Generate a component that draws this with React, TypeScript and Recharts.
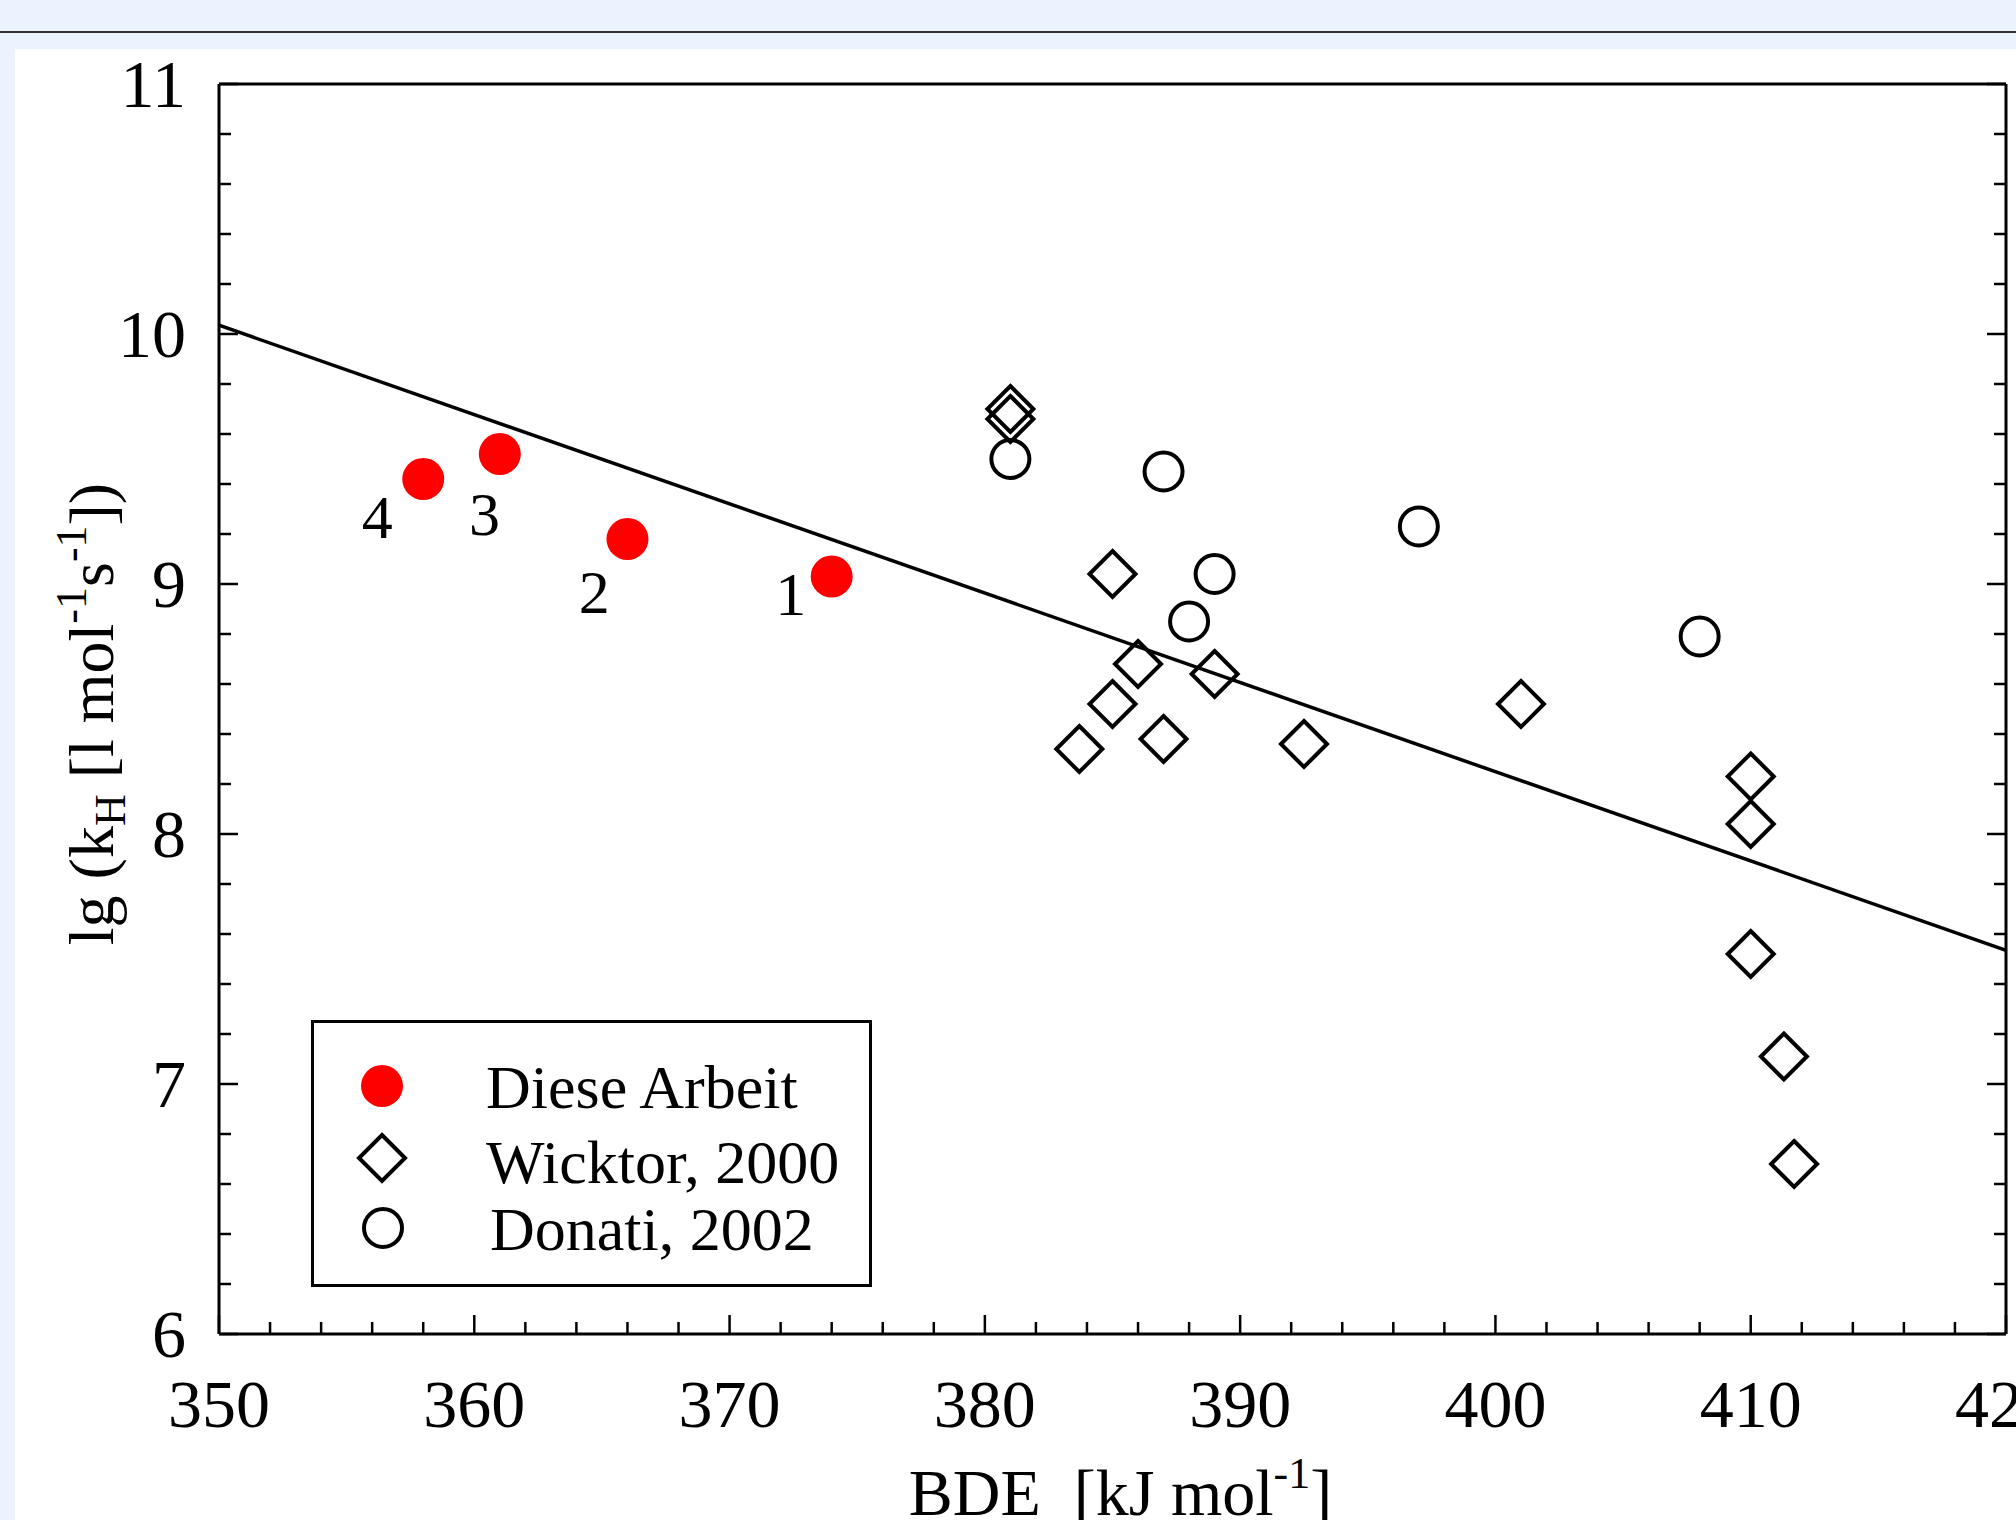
import React from "react";
import { ComposedChart, Scatter, Line, XAxis, YAxis, Legend } from "recharts";

const FONT = '"Liberation Serif", "Times New Roman", Times, serif';

// this work (red dots, numbered)
const dieseArbeit = [
  { x: 374.0, y: 9.03 },
  { x: 366.0, y: 9.18 },
  { x: 361.0, y: 9.52 },
  { x: 358.0, y: 9.42 },
];

// number labels next to the red dots
const dieseLabels = [
  { x: 372.4, y: 8.96, text: "1" },
  { x: 364.7, y: 8.97, text: "2" },
  { x: 360.4, y: 9.28, text: "3" },
  { x: 356.2, y: 9.27, text: "4" },
];

const wicktor = [
  { x: 381.0, y: 9.7 },
  { x: 381.0, y: 9.66 },
  { x: 385.0, y: 9.04 },
  { x: 386.0, y: 8.68 },
  { x: 389.0, y: 8.64 },
  { x: 385.0, y: 8.52 },
  { x: 387.0, y: 8.38 },
  { x: 383.7, y: 8.34 },
  { x: 392.5, y: 8.36 },
  { x: 401.0, y: 8.52 },
  { x: 410.0, y: 8.23 },
  { x: 410.0, y: 8.04 },
  { x: 410.0, y: 7.52 },
  { x: 411.3, y: 7.11 },
  { x: 411.7, y: 6.68 },
];

const donati = [
  { x: 381.0, y: 9.5 },
  { x: 387.0, y: 9.45 },
  { x: 389.0, y: 9.04 },
  { x: 388.0, y: 8.85 },
  { x: 397.0, y: 9.23 },
  { x: 408.0, y: 8.79 },
];

// linear fit
const fitLine = [
  { x: 350, y: 10.035 },
  { x: 420, y: 7.535 },
];

const xMajorTicks = [350, 360, 370, 380, 390, 400, 410, 420];
const yMajorTicks = [6, 7, 8, 9, 10, 11];
const xTicks = Array.from({ length: 36 }, (_, i) => 350 + i * 2);
const yTicks = Array.from({ length: 26 }, (_, i) => (60 + i * 2) / 10);

const isMajorX = (v: number) => xMajorTicks.includes(v);
const isMajorY = (v: number) => yMajorTicks.some((t) => Math.abs(t - v) < 1e-6);

const MAJOR = 19;
const MINOR = 12;
const TICK_W = 2.5;

const BottomTick = (props: any) => {
  const { x, y, payload } = props;
  const major = isMajorX(payload.value);
  return (
    <g>
      <line x1={x} x2={x} y1={y} y2={y - (major ? MAJOR : MINOR)} stroke="#000" strokeWidth={TICK_W} />
      {major && (
        <text x={x} y={y + 93} textAnchor="middle" fontFamily={FONT} fontSize={68} fill="#000">
          {payload.value}
        </text>
      )}
    </g>
  );
};

const TopTick = (props: any) => {
  const { x, y, payload } = props;
  const major = isMajorX(payload.value);
  return <line x1={x} x2={x} y1={y} y2={y + (major ? MAJOR : MINOR)} stroke="#000" strokeWidth={TICK_W} />;
};

const LeftTick = (props: any) => {
  const { x, y, payload } = props;
  const major = isMajorY(payload.value);
  return (
    <g>
      <line x1={x} x2={x + (major ? MAJOR : MINOR)} y1={y} y2={y} stroke="#000" strokeWidth={TICK_W} />
      {major && (
        <text x={x - 33} y={y} dy="0.34em" textAnchor="end" fontFamily={FONT} fontSize={68} fill="#000">
          {Math.round(payload.value)}
        </text>
      )}
    </g>
  );
};

const RightTick = (props: any) => {
  const { x, y, payload } = props;
  const major = isMajorY(payload.value);
  return <line x1={x} x2={x - (major ? MAJOR : MINOR)} y1={y} y2={y} stroke="#000" strokeWidth={TICK_W} />;
};

const RedDot = (props: any) => <circle cx={props.cx} cy={props.cy} r={21} fill="#ff0000" />;

const Diamond = (props: any) => {
  const { cx, cy } = props;
  const d = 23;
  return (
    <polygon
      points={`${cx},${cy - d} ${cx + d},${cy} ${cx},${cy + d} ${cx - d},${cy}`}
      fill="none"
      stroke="#000"
      strokeWidth={4}
    />
  );
};

const Ring = (props: any) => (
  <circle cx={props.cx} cy={props.cy} r={19} fill="none" stroke="#000" strokeWidth={4} />
);

const NumberLabel = (props: any) => (
  <text
    x={props.cx}
    y={props.cy}
    dy="0.34em"
    textAnchor="middle"
    fontFamily={FONT}
    fontSize={62}
    fill="#000"
  >
    {props.payload?.text}
  </text>
);

const XTitle = (props: any) => {
  const vb = props.viewBox || { x: 219, y: 1334, width: 1787 };
  const cx = vb.x + vb.width / 2 + 8;
  return (
    <text x={cx} y={1515} textAnchor="middle" fontFamily={FONT} fontSize={66} fill="#000">
      BDE{"\u00A0\u00A0"}[kJ mol
      <tspan dy={-27} fontSize={44}>-1</tspan>
      <tspan dy={27}>]</tspan>
    </text>
  );
};

const YTitle = () => {
  const x = 113;
  const y = 714;
  return (
    <text
      x={x}
      y={y}
      transform={`rotate(-90 ${x} ${y})`}
      textAnchor="middle"
      fontFamily={FONT}
      fontSize={64}
      fill="#000"
    >
      lg (k
      <tspan dy={12} fontSize={44}>H</tspan>
      <tspan dy={-12}> [l mol</tspan>
      <tspan dy={-27} fontSize={44}>-1</tspan>
      <tspan dy={27}>s</tspan>
      <tspan dy={-27} fontSize={44}>-1</tspan>
      <tspan dy={27}>])</tspan>
    </text>
  );
};

const legendItems = [
  { name: "Diese Arbeit", marker: "dot", textY: 88 },
  { name: "Wicktor, 2000", marker: "diamond", textY: 163 },
  { name: "Donati, 2002", marker: "ring", textY: 230 },
];

const LegendBox = () => (
  <svg width={561} height={267} style={{ display: "block" }}>
    <rect x={1.5} y={1.5} width={558} height={264} fill="#fff" stroke="#000" strokeWidth={3} />
    {legendItems.map((item) => {
      const my = item.textY - 22;
      return (
        <g key={item.name}>
          {item.marker === "dot" && <RedDot cx={71} cy={my} />}
          {item.marker === "diamond" && <Diamond cx={71} cy={my - 3} />}
          {item.marker === "ring" && <Ring cx={72} cy={my} />}
          <text x={item.marker === "ring" ? 179 : 175} y={item.textY} fontFamily={FONT} fontSize={62} fill="#000">
            {item.name}
          </text>
        </g>
      );
    })}
  </svg>
);

const axisLine = { stroke: "#000", strokeWidth: 3 };

export default function App() {
  return (
    <div
      style={{
        position: "fixed",
        left: 0,
        top: 0,
        width: 2016,
        height: 1520,
        background: "#ebf3fe",
        overflow: "hidden",
      }}
    >
      <div style={{ position: "absolute", left: 0, right: 0, top: 31, height: 2, background: "#333" }} />
      <div style={{ position: "absolute", left: 15, top: 49, right: 0, bottom: 0, background: "#fff" }} />
      <div style={{ position: "absolute", left: 0, top: 0 }}>
        <ComposedChart width={2016} height={1520} margin={{ top: 83, right: 9, bottom: 185, left: 218 }}>
          <XAxis
            type="number"
            dataKey="x"
            domain={[350, 420]}
            ticks={xTicks}
            interval={0}
            height={1}
            tickSize={0}
            tickMargin={0}
            tickLine={false}
            axisLine={axisLine}
            tick={<BottomTick />}
            label={{ content: (p: any) => <XTitle {...p} /> }}
            allowDataOverflow
          />
          <XAxis
            xAxisId="top"
            orientation="top"
            type="number"
            domain={[350, 420]}
            ticks={xTicks}
            interval={0}
            height={1}
            tickSize={0}
            tickMargin={0}
            tickLine={false}
            axisLine={axisLine}
            tick={<TopTick />}
            allowDataOverflow
          />
          <YAxis
            type="number"
            dataKey="y"
            domain={[6, 11]}
            ticks={yTicks}
            interval={0}
            width={1}
            tickSize={0}
            tickMargin={0}
            tickLine={false}
            axisLine={axisLine}
            tick={<LeftTick />}
            label={{ content: () => <YTitle /> }}
            allowDataOverflow
          />
          <YAxis
            yAxisId="right"
            orientation="right"
            type="number"
            domain={[6, 11]}
            ticks={yTicks}
            interval={0}
            width={1}
            tickSize={0}
            tickMargin={0}
            tickLine={false}
            axisLine={axisLine}
            tick={<RightTick />}
            allowDataOverflow
          />
          <Line
            data={fitLine}
            dataKey="y"
            type="linear"
            stroke="#000"
            strokeWidth={3.5}
            dot={false}
            activeDot={false}
            legendType="none"
            isAnimationActive={false}
          />
          <Scatter name="Diese Arbeit" data={dieseArbeit} shape={RedDot} isAnimationActive={false} />
          <Scatter name="Wicktor, 2000" data={wicktor} shape={Diamond} isAnimationActive={false} />
          <Scatter name="Donati, 2002" data={donati} shape={Ring} isAnimationActive={false} />
          <Scatter data={dieseLabels} shape={NumberLabel} legendType="none" isAnimationActive={false} />
          <Legend
            layout="horizontal"
            verticalAlign="middle"
            align="center"
            wrapperStyle={{ left: 311, top: 1020, width: 561, height: 267 }}
            content={() => <LegendBox />}
          />
        </ComposedChart>
      </div>
    </div>
  );
}
